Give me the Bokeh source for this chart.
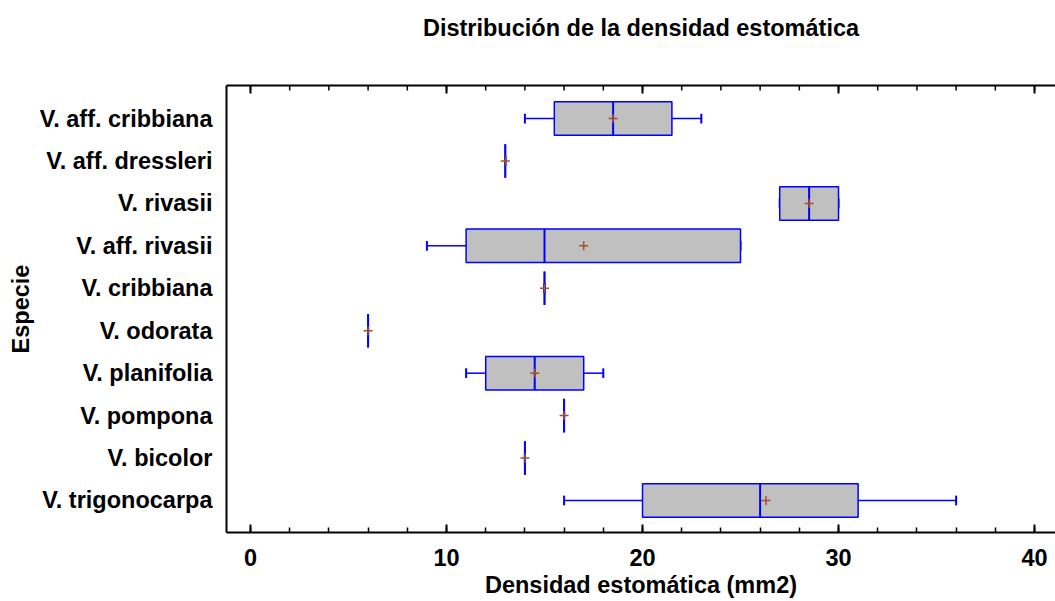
import numpy as np
from bokeh.plotting import figure
from bokeh.models import Range1d, FixedTicker, LinearAxis, ColumnDataSource
from bokeh.embed import file_html
from bokeh.resources import INLINE

# Categories listed bottom -> top
species = ["V. trigonocarpa", "V. bicolor", "V. pompona", "V. planifolia", "V. odorata",
           "V. cribbiana", "V. aff. rivasii", "V. rivasii", "V. aff. dressleri", "V. aff. cribbiana"]
wmin   = [16.0, 14.0, 16.0, 11.0, 6.0, 15.0,  9.0, 27.0, 13.0, 14.0]
q1     = [20.0, 14.0, 16.0, 12.0, 6.0, 15.0, 11.0, 27.0, 13.0, 15.5]
median = [26.0, 14.0, 16.0, 14.5, 6.0, 15.0, 15.0, 28.5, 13.0, 18.5]
q3     = [31.0, 14.0, 16.0, 17.0, 6.0, 15.0, 25.0, 30.0, 13.0, 21.5]
wmax   = [36.0, 14.0, 16.0, 18.0, 6.0, 15.0, 25.0, 30.0, 13.0, 23.0]
mean   = [26.3, 14.0, 16.0, 14.5, 6.0, 15.0, 17.0, 28.5, 13.0, 18.5]

x_ticks = [0, 10, 20, 30, 40]
x_minor = list(range(0, 42, 2))

TITLE = "Distribución de la densidad estomática"
XLABEL = "Densidad estomática (mm2)"
YLABEL = "Especie"

FONT = "Liberation Sans"
FS = "23.5px"
BLUE = "#0000FF"

W, H = 1055, 601
B_LEFT, B_TOP, B_BOTTOM = 226, 85, 69
X0, X1 = -1.224, 41.07
Y0, Y1 = -0.754, 9.778
frame_h = H - B_TOP - B_BOTTOM
units_per_px = (Y1 - Y0) / frame_h

ypos = np.arange(len(species), dtype=float)
box_h = 0.79
cap_h = 0.23

src = ColumnDataSource(dict(
    y=ypos, wmin=wmin, q1=q1, med=median, q3=q3, wmax=wmax, mean=mean,
    top=ypos + box_h / 2, bottom=ypos - box_h / 2,
    ctop=ypos + cap_h / 2, cbot=ypos - cap_h / 2,
))

p = figure(width=W, height=H,
           x_range=Range1d(X0, X1), y_range=Range1d(Y0, Y1),
           output_backend="svg", toolbar_location=None,
           min_border_left=B_LEFT, min_border_right=0, min_border_top=B_TOP,
           min_border_bottom=B_BOTTOM)
p.outline_line_color = None
p.xgrid.visible = False
p.ygrid.visible = False
p.background_fill_color = "white"
p.border_fill_color = "white"

# whiskers
p.segment(x0="wmin", y0="y", x1="q1", y1="y", source=src, line_color=BLUE, line_width=1.5)
p.segment(x0="q3", y0="y", x1="wmax", y1="y", source=src, line_color=BLUE, line_width=1.5)
p.segment(x0="wmin", y0="cbot", x1="wmin", y1="ctop", source=src, line_color=BLUE, line_width=2)
p.segment(x0="wmax", y0="cbot", x1="wmax", y1="ctop", source=src, line_color=BLUE, line_width=2)
# boxes
p.quad(left="q1", right="q3", bottom="bottom", top="top", source=src,
       fill_color="#C0C0C0", line_color=BLUE, line_width=1.5)
# median
p.segment(x0="med", y0="bottom", x1="med", y1="top", source=src, line_color=BLUE, line_width=2)
# mean
p.scatter(x="mean", y="y", source=src, marker="cross", size=9,
          line_color="#A0522D", line_width=1.5)

# top-edge tick marks (pointing inward)
maj_len = 8 * units_per_px
min_len = 5 * units_per_px
p.segment(x0=x_minor, y0=[Y1] * len(x_minor), x1=x_minor, y1=[Y1 - min_len] * len(x_minor),
          line_color="black", line_width=1.5)
p.segment(x0=x_ticks, y0=[Y1] * len(x_ticks), x1=x_ticks, y1=[Y1 - maj_len] * len(x_ticks),
          line_color="black", line_width=2)

# bottom axis
xa = p.xaxis[0]
xa.ticker = FixedTicker(ticks=x_ticks, minor_ticks=x_minor)
xa.axis_label = XLABEL
xa.axis_line_color = "black"
xa.axis_line_width = 2
xa.major_tick_in = 8
xa.major_tick_out = 0
xa.minor_tick_in = 5
xa.minor_tick_out = 0
xa.major_tick_line_color = "black"
xa.major_tick_line_width = 2
xa.minor_tick_line_color = "black"
xa.minor_tick_line_width = 1.5
xa.major_label_text_font = FONT
xa.major_label_text_font_style = "bold"
xa.major_label_text_color = "black"
xa.major_label_text_font_size = FS
xa.major_label_standoff = 16
xa.axis_label_text_font = FONT
xa.axis_label_text_font_size = FS
xa.axis_label_text_font_style = "bold"
xa.axis_label_text_color = "black"
xa.axis_label_standoff = 3

# top frame line; its axis label carries the chart title
top = LinearAxis(ticker=FixedTicker(ticks=[], minor_ticks=[]))
top.axis_line_color = "black"
top.axis_line_width = 2
top.major_tick_line_color = None
top.minor_tick_line_color = None
top.major_tick_in = 0
top.major_tick_out = 0
top.minor_tick_out = 0
top.major_label_standoff = 0
top.axis_label = TITLE
top.axis_label_text_font = FONT
top.axis_label_text_font_size = FS
top.axis_label_text_font_style = "bold"
top.axis_label_text_color = "black"
top.axis_label_standoff = 45
p.add_layout(top, "above")

ya = p.yaxis[0]
ya.ticker = FixedTicker(ticks=list(ypos), minor_ticks=[])
ya.major_label_overrides = {float(i): s for i, s in zip(ypos, species)}
ya.major_label_overrides.update({int(i): s for i, s in zip(ypos, species)})
ya.axis_line_color = "black"
ya.axis_line_width = 2
ya.major_tick_line_color = None
ya.minor_tick_line_color = None
ya.major_tick_in = 0
ya.major_tick_out = 0
ya.major_label_standoff = 14
ya.major_label_text_font = FONT
ya.major_label_text_font_size = FS
ya.major_label_text_font_style = "bold"
ya.major_label_text_color = "black"
ya.axis_label = YLABEL
ya.axis_label_text_font = FONT
ya.axis_label_text_font_size = FS
ya.axis_label_text_font_style = "bold"
ya.axis_label_text_color = "black"
ya.axis_label_standoff = 3

open("out.html", "w").write(file_html(p, INLINE))
